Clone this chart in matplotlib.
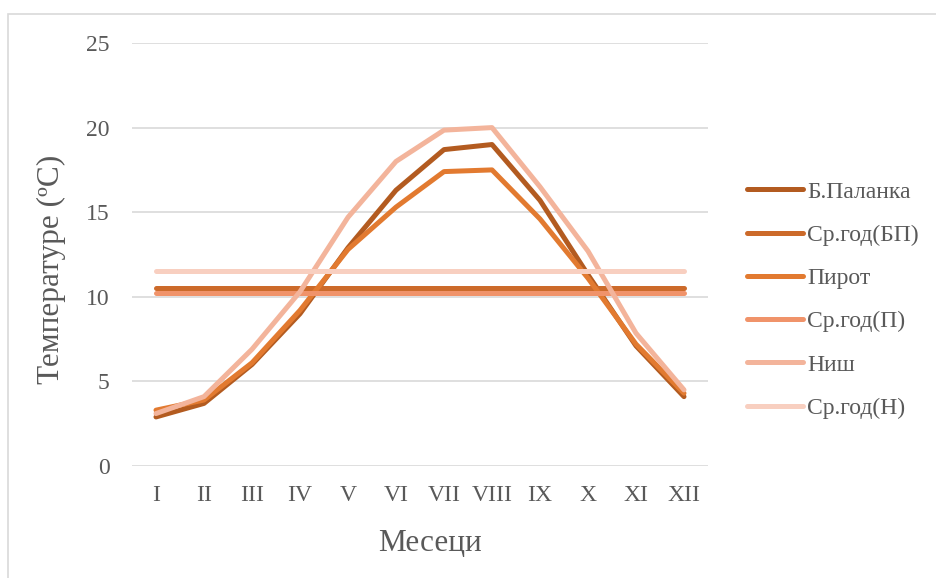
import matplotlib.pyplot as plt
from matplotlib.patches import Rectangle

# monthly mean temperatures
months = ['I', 'II', 'III', 'IV', 'V', 'VI', 'VII', 'VIII', 'IX', 'X', 'XI', 'XII']
bela_palanka = [2.9, 3.7, 6.0, 9.0, 12.9, 16.3, 18.7, 19.0, 15.7, 11.3, 7.1, 4.1]
pirot = [3.3, 3.9, 6.1, 9.2, 12.8, 15.3, 17.4, 17.5, 14.6, 11.1, 7.2, 4.3]
nis = [3.1, 4.1, 6.9, 10.3, 14.7, 18.0, 19.85, 20.0, 16.5, 12.7, 7.85, 4.5]
# yearly averages
avg_bp = 10.5
avg_p = 10.2
avg_n = 11.5

text_color = '#595959'
plt.rcParams['font.family'] = ['Liberation Serif', 'DejaVu Serif']

fig = plt.figure(figsize=(9.36, 5.78), dpi=100)
W, H = 936, 578

# light frame around the chart area
fig.patches.append(Rectangle((8 / W, -0.1), 1.1, (H - 14) / H + 0.1, transform=fig.transFigure,
                             fill=False, edgecolor='#D9D9D9', linewidth=1.2))

ax = fig.add_axes([132 / W, (H - 466) / H, (708 - 132) / W, (466 - 43) / H])
x = range(len(months))
lw = 3.6

series = [
    (bela_palanka, 'Б.Паланка', '#B35B20'),
    ([avg_bp] * len(months), 'Ср.год(БП)', '#CC6A2A'),
    (pirot, 'Пирот', '#E27A30'),
    ([avg_p] * len(months), 'Ср.год(П)', '#F0936A'),
    (nis, 'Ниш', '#F3B49B'),
    ([avg_n] * len(months), 'Ср.год(Н)', '#F8CFC0'),
]
for vals, name, col in series:
    ax.plot(x, vals, color=col, linewidth=lw, label=name, solid_capstyle='round', solid_joinstyle='round')

ax.set_xlim(-0.5, 11.5)
ax.set_ylim(0, 25)
ax.set_yticks([0, 5, 10, 15, 20, 25])
ax.set_xticks(list(x))
ax.set_xticklabels(months)
ax.grid(axis='y', color='#D9D9D9', linewidth=1.2)
ax.set_axisbelow(True)
for s in ax.spines.values():
    s.set_visible(False)
ax.tick_params(length=0, labelsize=17, colors=text_color)
ax.tick_params(axis='y', pad=16)
ax.tick_params(axis='x', pad=14)

ax.set_xlabel('Месеци', fontsize=22.5, color=text_color)
ax.xaxis.label.set_va('center')
ax.xaxis.set_label_coords(0.517, -0.184)
ax.set_ylabel('Температуре (ºC)', fontsize=22.5, color=text_color)
ax.yaxis.label.set_va('center')
ax.yaxis.set_label_coords(-0.139, 0.466)

leg = ax.legend(loc='center left', bbox_to_anchor=(747 / W, (H - 300) / H), bbox_transform=fig.transFigure,
                frameon=False, fontsize=17, handlelength=2.37, handletextpad=0.17, labelspacing=0.92,
                borderpad=0, borderaxespad=0)
for t in leg.get_texts():
    t.set_color(text_color)

fig.savefig('out.png', dpi=100)
